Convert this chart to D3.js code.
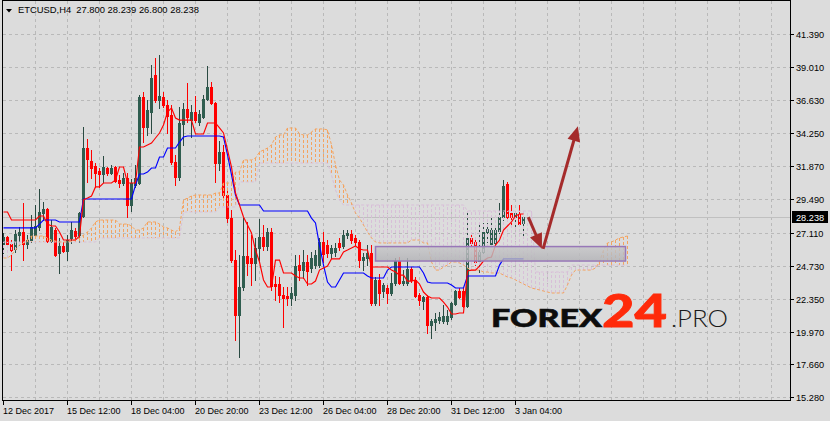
<!DOCTYPE html>
<html><head><meta charset="utf-8">
<script src="https://cdn.jsdelivr.net/npm/d3@7"></script>
<style>html,body{margin:0;padding:0;background:#dcdcdc;}svg{display:block;}</style>
</head><body>
<svg id="c" width="830" height="421"></svg>
<script>
const symbolTitle = "ETCUSD,H4";
const lastQuote = ["27.800", "28.239", "26.800", "28.238"];
const opens = [26.29,26.79,26.29,25.93,26.93,27.15,26.29,26.57,26.93,27.51,
28.51,28.80,26.50,27.29,25.64,26.14,25.78,26.72,27.22,26.93,
28.30,33.19,32.25,31.90,31.54,31.32,31.75,31.39,31.82,30.89,
30.67,31.03,29.09,30.53,30.67,36.86,34.70,35.78,38.44,36.64,
36.86,36.28,35.56,32.18,31.10,34.92,35.99,35.20,35.78,35.06,
35.42,36.72,37.58,36.43,32.11,32.90,29.81,28.15,25.13,21.18,
23.19,25.42,25.28,24.92,26.00,26.79,26.14,27.15,23.41,23.41,
22.62,22.55,22.40,22.62,24.77,24.41,24.99,24.56,24.77,24.77,
26.43,26.21,25.64,25.71,26.36,26.14,26.93,27.00,26.72,26.43,
25.13,25.28,25.64,22.04,23.70,22.90,23.12,22.76,23.48,25.06,
23.48,23.48,24.49,23.70,22.62,22.19,22.47,20.46,20.67,20.82,
20.75,20.75,21.03,21.97,22.90,22.90,21.83,26.72,26.43,25.06,
25.71,27.15,26.29,26.36,27.22,28.23,30.60,28.51,28.23,28.44,
27.80];
const highs = [27.08,26.86,26.57,27.29,27.51,29.23,26.93,28.37,29.09,30.24,
29.31,28.87,28.01,27.44,26.72,26.43,26.93,27.87,27.44,28.59,
34.70,33.84,33.05,32.11,31.75,32.61,31.82,31.97,31.90,31.25,
31.39,31.39,30.96,31.97,37.00,37.22,36.64,39.16,39.66,39.88,
37.22,36.64,36.28,32.69,36.14,36.43,37.87,36.28,36.93,35.92,
37.00,39.09,37.94,36.50,33.69,33.41,30.17,28.73,25.85,25.49,
28.15,27.87,26.93,26.72,28.08,27.65,27.44,27.44,23.98,23.91,
23.19,23.19,23.19,25.49,25.49,25.85,25.49,25.71,25.85,26.72,
27.15,26.57,26.21,26.36,26.72,27.29,27.29,27.29,26.93,26.57,
25.64,26.21,26.21,23.91,24.13,23.48,23.34,24.20,25.28,25.35,
24.41,25.28,24.63,23.91,22.76,22.55,22.62,20.89,21.32,21.39,
21.90,21.54,22.11,22.98,23.12,23.12,28.51,27.08,26.72,27.65,
27.80,27.80,28.15,27.44,29.23,30.89,30.75,29.09,28.59,29.09,
28.239];
const lows = [25.64,26.07,24.41,25.71,26.21,25.13,26.00,26.43,26.86,27.29,
28.01,26.43,26.43,25.42,24.20,25.71,25.13,26.36,26.72,26.43,
28.23,30.75,31.03,30.39,30.39,30.75,31.25,31.32,30.75,30.39,
30.53,28.23,28.66,30.39,30.60,33.62,34.13,34.27,36.50,36.07,
36.14,34.27,32.04,30.53,30.89,33.41,35.06,33.98,35.06,34.85,
35.35,36.64,36.35,30.75,31.61,29.45,27.87,24.99,19.38,18.16,
22.98,24.05,23.34,23.70,24.99,25.85,25.85,22.98,22.26,22.11,
20.32,21.90,21.90,22.26,23.70,23.84,23.34,24.27,24.56,24.63,
24.99,25.35,25.28,25.42,25.85,26.00,26.72,26.36,26.21,24.63,
24.41,24.77,21.90,21.90,21.90,22.47,22.04,22.62,23.34,23.41,
23.34,23.34,23.55,22.47,21.90,21.61,19.88,19.52,20.10,20.60,
20.60,20.53,20.89,21.90,22.40,21.75,21.75,26.21,24.77,24.27,
25.64,26.43,26.07,26.21,27.08,28.01,28.01,27.51,27.51,27.65,
26.80];
const closes = [26.79,26.29,25.85,27.00,27.15,26.29,26.57,27.51,27.58,28.59,
28.80,26.50,27.51,25.49,26.14,25.78,26.57,27.29,26.86,28.51,
33.19,32.40,31.75,31.39,31.32,31.82,31.39,31.75,30.82,30.67,
31.03,29.09,30.67,31.03,36.86,34.70,35.92,38.23,36.64,36.93,
36.28,35.49,32.18,31.10,34.99,35.99,35.42,35.78,35.20,35.64,
36.72,37.58,36.43,32.11,32.90,29.81,28.15,25.13,21.18,23.19,
25.42,24.92,24.92,26.00,26.79,26.14,27.15,23.26,23.26,22.62,
22.40,22.40,22.76,24.70,24.41,24.99,24.34,25.28,25.49,26.43,
25.57,25.64,26.00,26.00,26.07,26.93,27.08,26.57,26.43,25.13,
25.35,25.64,22.04,23.70,22.76,23.34,22.76,23.48,25.06,23.48,
23.62,24.49,23.70,22.55,22.26,22.47,20.46,20.75,20.89,21.03,
21.11,21.11,22.04,22.90,22.47,21.83,26.72,26.36,24.99,25.71,
27.15,27.36,27.29,27.29,28.23,30.46,28.23,28.23,28.51,27.72,
28.238];
const tenkan = [28.59,28.59,28.01,28.01,28.01,28.01,28.01,28.01,28.01,28.30,
28.30,27.72,27.58,27.58,27.15,26.57,26.57,26.57,26.57,26.86,
29.45,29.59,29.74,30.39,30.39,30.67,30.67,30.67,30.89,31.82,
31.82,30.67,30.67,30.67,33.26,33.26,33.41,33.55,33.91,34.27,
34.85,35.78,36.07,35.35,35.20,35.20,35.20,35.20,34.20,34.20,
34.20,34.99,34.99,34.99,34.63,34.27,33.05,31.82,29.95,29.09,
28.23,27.65,27.08,25.85,24.99,23.70,23.19,23.19,25.13,25.13,
24.20,24.20,24.20,23.98,23.84,23.84,23.41,23.41,23.62,24.41,
24.56,24.70,25.21,25.21,25.21,25.71,25.85,26.00,26.14,25.93,
25.85,25.85,24.63,24.63,24.63,24.63,24.63,24.41,24.27,24.05,
24.05,23.62,23.62,23.70,23.41,22.83,22.55,22.40,22.40,22.40,
22.11,21.75,21.25,21.25,21.32,21.32,24.34,24.41,24.41,24.70,
25.06,25.28,25.35,26.21,26.57,27.29,27.58,27.87,28.30,28.44,
28.44];
const kijun = [27.44,27.44,27.44,27.44,27.44,27.44,27.44,27.44,27.44,27.72,
28.01,28.01,28.01,28.01,27.87,27.87,27.87,27.87,27.87,27.87,
29.52,29.52,29.52,29.52,29.52,29.52,29.52,29.52,29.52,29.52,
29.52,29.52,29.52,30.53,31.32,31.32,31.46,31.75,31.75,32.54,
32.54,33.19,33.19,33.19,33.62,33.98,34.05,34.05,34.05,34.05,
34.05,34.05,34.05,34.05,34.05,33.98,32.69,31.25,29.81,29.09,
29.09,29.09,29.09,29.09,29.09,28.66,28.66,28.66,28.66,28.66,
28.66,28.66,28.66,28.66,28.66,28.66,28.66,28.15,27.80,26.21,
24.77,23.55,23.19,23.19,23.70,24.20,24.20,24.20,24.20,24.20,
24.20,23.98,23.84,23.84,23.84,23.84,24.41,24.63,24.63,24.63,
24.63,24.63,24.63,24.63,24.63,24.20,23.55,23.48,23.48,23.48,
23.48,23.48,23.34,23.12,23.12,23.12,23.98,23.98,23.98,23.98,
23.98,23.98,23.98,23.98,24.77,25.21,25.21,25.21,25.21,25.21,
25.21];
const spanA = [25.28,25.28,25.49,25.85,26.21,26.36,26.57,26.86,26.86,26.86,
26.86,26.72,26.57,26.50,26.43,26.43,26.43,26.50,26.57,26.72,
26.93,27.15,27.44,27.87,28.01,28.01,28.01,28.01,28.01,27.72,
27.72,27.72,27.58,27.29,27.29,27.44,27.87,27.87,27.87,27.72,
27.51,27.44,27.29,27.15,27.44,29.45,29.59,29.74,29.81,29.81,
29.81,29.81,29.81,29.95,29.95,30.67,30.67,30.67,31.46,31.46,
32.33,32.33,32.33,32.47,32.90,33.05,33.19,33.41,33.98,34.13,
34.13,34.63,34.63,34.63,34.20,34.13,34.13,34.34,34.56,34.56,
34.56,34.49,33.41,31.97,30.89,30.53,29.81,29.23,28.51,28.15,
27.65,27.15,26.72,26.43,26.36,26.36,26.36,26.36,26.36,26.36,
26.36,26.36,26.57,26.57,26.57,26.36,26.36,24.99,24.41,24.41,
24.63,24.77,24.99,24.99,24.92,24.77,24.56,24.41,24.41,24.41,
24.27,24.27,24.20,24.20,24.20,24.05,23.91,23.84,23.70,23.55,
23.41,23.26,23.12,23.05,22.98,22.90,22.83,22.76,22.76,22.76,
22.76,23.34,24.05,24.41,24.41,24.41,24.41,24.41,24.56,24.99,
25.85,26.36,26.43,26.57,26.72,26.79,26.86];
const spanB = [26.43,26.43,26.43,26.43,26.43,26.43,26.43,26.43,26.43,26.43,
26.43,26.43,26.43,26.43,26.43,26.43,26.43,26.43,26.43,26.43,
26.43,26.43,26.43,26.43,26.72,26.72,26.72,26.72,26.72,26.72,
26.72,26.72,26.72,26.72,26.72,26.72,26.72,26.72,26.72,26.72,
26.72,26.72,26.72,26.72,26.72,28.59,28.59,28.59,28.59,28.59,
28.59,28.59,28.59,28.59,28.95,28.95,28.95,28.95,28.95,30.75,
30.75,30.75,30.75,30.75,32.11,32.11,32.11,32.11,32.11,32.11,
32.11,32.11,32.11,32.11,32.11,32.11,32.11,32.11,32.11,32.11,
32.11,32.11,31.25,30.17,29.45,29.09,29.09,29.09,29.09,29.09,
29.09,29.09,29.09,29.09,29.09,29.09,29.09,29.09,29.09,29.09,
29.09,29.09,29.09,29.09,29.09,29.09,29.09,29.09,29.09,29.09,
29.09,29.09,29.09,29.09,29.09,29.09,28.66,28.66,28.66,28.66,
28.66,28.66,28.66,28.66,28.66,28.66,28.66,28.66,28.66,28.66,
28.66,28.66,28.66,24.27,24.27,24.27,24.27,24.27,24.27,24.27,
24.27,24.27,24.77,24.77,24.77,24.77,24.77,24.77,24.77,24.77,
24.77,24.77,24.77,24.77,24.77,24.77,24.77];
const priceTicks = [41.39, 39.01, 36.63, 34.25, 31.87, 29.49, 27.11, 24.73, 22.35, 19.97, 17.66, 15.28];
const priceTickLabels = ["41.390","39.010","36.630","34.250","31.870","29.490","27.110","24.730","22.350","19.970","17.660","15.280"];
const timeTickBars = [0, 16, 32, 48, 64, 80, 96, 112, 128];
const timeTickLabels = ["12 Dec 2017","15 Dec 12:00","18 Dec 04:00","20 Dec 20:00","23 Dec 12:00","26 Dec 04:00","28 Dec 20:00","31 Dec 12:00","3 Jan 04:00"];
const bidPrice = 28.238;
const zoneBars = [93, 155.5];
const zonePrices = [26.10, 25.06];
const arrowDown = [[131.2, 28.22], [134.6, 25.95]];
const arrowUp = [[134.9, 25.94], [143.6, 34.76]];

const W = 830, H = 421;
const PL = 3, PR = 790, PT = 1, PB = 400;
const FONT = "'Liberation Sans', Arial, sans-serif";
const svg = d3.select("#c");
const x = d3.scaleLinear().domain([0, 100]).range([3.5, 403.5]);
const y = d3.scaleLinear().domain([15.28, 41.39]).range([397, 34]);

svg.append("rect").attr("width", W).attr("height", H).attr("fill", "#dcdcdc");
const defs = svg.append("defs");
defs.append("clipPath").attr("id", "pc").append("rect")
  .attr("x", PL).attr("y", PT).attr("width", PR - PL).attr("height", PB - PT);
const grad = defs.append("linearGradient").attr("id", "zg").attr("x1", 0).attr("y1", 0).attr("x2", 0).attr("y2", 1);
grad.append("stop").attr("offset", "0%").attr("stop-color", "#c6c6c8");
grad.append("stop").attr("offset", "100%").attr("stop-color", "#b2b2b6");

const g = svg.append("g").attr("clip-path", "url(#pc)");

// grid
const gridC = "#b9b9b9";
priceTicks.forEach(p => {
  const yy = Math.round(y(p)) + 0.5;
  g.append("line").attr("x1", PL).attr("x2", PR).attr("y1", yy).attr("y2", yy)
    .attr("stroke", gridC).attr("stroke-dasharray", "3,3").attr("shape-rendering", "crispEdges");
});
for (let k = 8; x(k) < PR; k += 8) {
  g.append("line").attr("x1", x(k)).attr("x2", x(k)).attr("y1", PT).attr("y2", PB)
    .attr("stroke", gridC).attr("stroke-dasharray", "3,3").attr("shape-rendering", "crispEdges");
}

// bid line
const by = Math.round(y(bidPrice)) + 0.5;
g.append("line").attr("x1", PL).attr("x2", PR).attr("y1", by).attr("y2", by)
  .attr("stroke", "#c0c0c0").attr("shape-rendering", "crispEdges");

// candles
const bullBody = "#2f5d4f", bullWick = "#2a4a42", bear = "#ff0000";
const cg = g.append("g").attr("shape-rendering", "crispEdges");
opens.forEach((o, k) => {
  const c = closes[k], up = c >= o;
  const cx = x(k);
  cg.append("line").attr("x1", cx).attr("x2", cx)
    .attr("y1", Math.round(y(highs[k]))).attr("y2", Math.round(y(lows[k])) + 1)
    .attr("stroke", up ? bullWick : bear);
  const top = Math.round(y(Math.max(o, c)));
  const bot = Math.round(y(Math.min(o, c)));
  cg.append("rect").attr("x", cx - 1.5).attr("width", 3)
    .attr("y", top).attr("height", Math.max(1, bot - top + 1))
    .attr("fill", up ? bullBody : bear);
});

// cloud hatch
const hg = g.append("g").attr("shape-rendering", "crispEdges");
spanA.forEach((a, k) => {
  const b = spanB[k];
  hg.append("line").attr("x1", x(k)).attr("x2", x(k))
    .attr("y1", y(a)).attr("y2", y(b))
    .attr("stroke", a >= b ? "#f4a460" : "#d8bfd8")
    .attr("stroke-dasharray", "3,2");
});
const lineGen = d3.line().x((d, i) => x(i)).y(d => y(d));
g.append("path").datum(spanB).attr("d", lineGen).attr("fill", "none")
  .attr("stroke", "#d8bfd8").attr("stroke-dasharray", "3,2");
g.append("path").datum(spanA).attr("d", lineGen).attr("fill", "none")
  .attr("stroke", "#f4a460").attr("stroke-dasharray", "3,2");

// tenkan / kijun
g.append("path").datum(kijun).attr("d", lineGen).attr("fill", "none")
  .attr("stroke", "#0000ff").attr("stroke-width", 1.15);
g.append("path").datum(tenkan).attr("d", lineGen).attr("fill", "none")
  .attr("stroke", "#ff0000").attr("stroke-width", 1.15);

// zone rectangle
const zx0 = x(zoneBars[0]), zx1 = x(zoneBars[1]);
const zy0 = y(zonePrices[0]), zy1 = y(zonePrices[1]);
g.append("rect").attr("x", zx0).attr("y", zy0).attr("width", zx1 - zx0).attr("height", zy1 - zy0)
  .attr("fill", "url(#zg)").attr("fill-opacity", 0.82)
  .attr("stroke", "#9878b8").attr("stroke-width", 1.5);

// arrows
function drawArrow(pts) {
  const x0 = x(pts[0][0]), y0 = y(pts[0][1]), x1 = x(pts[1][0]), y1 = y(pts[1][1]);
  const ang = Math.atan2(y1 - y0, x1 - x0), L = 15, Wd = 6.5;
  const ca = Math.cos(ang), sa = Math.sin(ang);
  g.append("line").attr("x1", x0).attr("y1", y0).attr("x2", x1 - ca * L * 0.7).attr("y2", y1 - sa * L * 0.7)
    .attr("stroke", "#a52b2b").attr("stroke-width", 3);
  const bx = x1 - ca * L, byy = y1 - sa * L;
  g.append("path").attr("d", `M${x1},${y1}L${bx - sa * Wd},${byy + ca * Wd}L${bx + sa * Wd},${byy - ca * Wd}Z`)
    .attr("fill", "#a52b2b");
}
drawArrow(arrowDown);
drawArrow(arrowUp);

// logo
const logo = svg.append("g");
logo.append("text").attr("x", 491).attr("y", 327).text("FOREX")
  .attr("font-family", "Lato, 'Open Sans', sans-serif").attr("font-weight", 900).attr("font-size", 25.5)
  .attr("fill", "#0d0d0d").attr("stroke", "#0d0d0d").attr("stroke-width", 0.6)
  .attr("textLength", 111).attr("lengthAdjust", "spacingAndGlyphs");
logo.append("text").attr("x", 602).attr("y", 327).text("24")
  .attr("font-family", "Lato, 'Open Sans', sans-serif").attr("font-weight", 900).attr("font-size", 46)
  .attr("fill", "#ff2a0a").attr("stroke", "#ff2a0a").attr("stroke-width", 0.8)
  .attr("textLength", 65).attr("lengthAdjust", "spacingAndGlyphs");
logo.append("text").attr("x", 671).attr("y", 327).text(".PRO")
  .attr("font-family", "Lato, 'Open Sans', sans-serif").attr("font-weight", 300).attr("font-size", 23)
  .attr("fill", "#1a1a1a").attr("textLength", 57).attr("lengthAdjust", "spacingAndGlyphs");

// frame
svg.append("rect").attr("x", PL - 0.5).attr("y", PT - 0.5).attr("width", PR - PL + 1).attr("height", PB - PT + 1)
  .attr("fill", "none").attr("stroke", "#000").attr("shape-rendering", "crispEdges");

// price axis
priceTicks.forEach((p, i) => {
  const yy = Math.round(y(p)) + 0.5;
  svg.append("line").attr("x1", PR).attr("x2", PR + 4).attr("y1", yy).attr("y2", yy)
    .attr("stroke", "#000").attr("shape-rendering", "crispEdges");
  svg.append("text").attr("x", 796).attr("y", yy + 3.5).text(priceTickLabels[i])
    .attr("font-family", FONT).attr("font-size", 9.2).attr("fill", "#000");
});
svg.append("rect").attr("x", 792).attr("y", by - 6.5).attr("width", 36).attr("height", 12).attr("fill", "#000");
svg.append("text").attr("x", 796).attr("y", by + 3.5).text(bidPrice.toFixed(3))
  .attr("font-family", FONT).attr("font-size", 9.2).attr("fill", "#fff");

// time axis
timeTickBars.forEach((k, i) => {
  svg.append("line").attr("x1", x(k)).attr("x2", x(k)).attr("y1", PB).attr("y2", PB + 5)
    .attr("stroke", "#000").attr("shape-rendering", "crispEdges");
  svg.append("text").attr("x", x(k) - 0.5).attr("y", 413.5).text(timeTickLabels[i])
    .attr("font-family", FONT).attr("font-size", 9).attr("fill", "#000");
});

// title
svg.append("path").attr("d", "M6,9L12,9L9,12.5Z").attr("fill", "#000");
svg.append("text").attr("x", 18).attr("y", 13).attr("xml:space", "preserve")
  .text(symbolTitle + "  " + lastQuote.join(" "))
  .attr("font-family", FONT).attr("font-size", 9.4).attr("fill", "#000");
</script>
</body></html>
